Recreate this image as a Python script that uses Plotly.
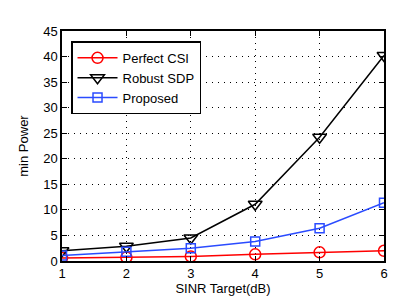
import plotly.graph_objects as go

sinr = [1, 2, 3, 4, 5, 6]
perfect_csi = [0.6, 0.7, 0.9, 1.3, 1.7, 2.0]
robust_sdp = [2.0, 2.9, 4.5, 11.1, 24.2, 40.2]
proposed = [1.1, 1.8, 2.5, 3.8, 6.4, 11.4]

x_ticks = [1, 2, 3, 4, 5, 6]
y_ticks = [0, 5, 10, 15, 20, 25, 30, 35, 40, 45]

FONT = "Liberation Sans, Arial, sans-serif"

fig = go.Figure()
fig.add_trace(go.Scatter(x=sinr, y=perfect_csi, name="Perfect CSI", mode="lines+markers",
                         line=dict(color="#ff0000", width=1.5),
                         marker=dict(symbol="circle-open", size=11, color="#ff0000", line=dict(width=1.5))))
fig.add_trace(go.Scatter(x=sinr, y=robust_sdp, name="Robust SDP", mode="lines+markers",
                         line=dict(color="#000000", width=1.5),
                         marker=dict(symbol="triangle-down-open", size=12, color="#000000", line=dict(width=1.5))))
fig.add_trace(go.Scatter(x=sinr, y=proposed, name="Proposed", mode="lines+markers",
                         line=dict(color="#2a4bff", width=1.5),
                         marker=dict(symbol="square-open", size=9, color="#2a4bff", line=dict(width=1.5))))

axis_common = dict(showline=True, linecolor="black", linewidth=1.5, mirror="ticks",
                   ticks="inside", ticklen=5, tickcolor="black", tickwidth=1,
                   showgrid=True, gridcolor="black", gridwidth=1, griddash="1px,5px",
                   zeroline=False, tickfont=dict(family=FONT, size=13, color="black"))

fig.update_xaxes(range=[1, 6], tickvals=x_ticks,
                 title=dict(text="SINR Target(dB)", font=dict(family=FONT, size=13, color="black"), standoff=4),
                 **axis_common)
fig.update_yaxes(range=[0, 45], tickvals=y_ticks,
                 title=dict(text="min Power", font=dict(family=FONT, size=13, color="black"), standoff=12),
                 **axis_common)

fig.update_layout(
    width=415, height=298,
    margin=dict(l=54, r=39, t=23, b=40),
    paper_bgcolor="white", plot_bgcolor="white",
    font=dict(family=FONT, size=13, color="black"),
    legend=dict(x=0.028, y=0.955, xanchor="left", yanchor="top",
                bgcolor="white", bordercolor="black", borderwidth=1.5,
                font=dict(family=FONT, size=13, color="black"),
                tracegroupgap=0, itemwidth=40),
    showlegend=True,
)

fig.write_html("out.html")
